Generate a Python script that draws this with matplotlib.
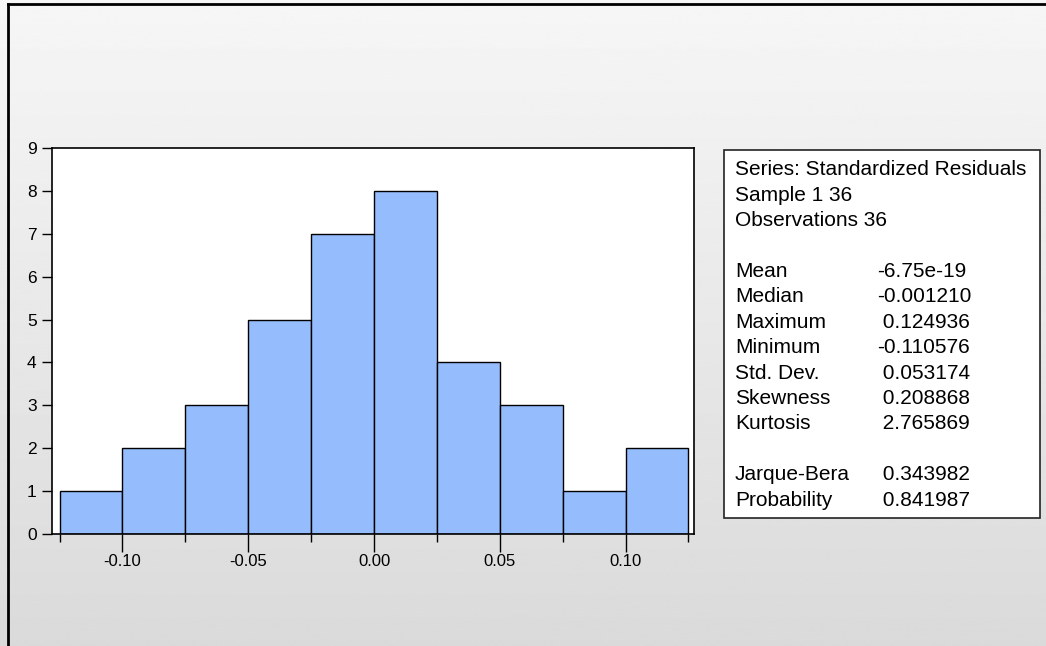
import numpy as np
import matplotlib
matplotlib.use("Agg")
import matplotlib.pyplot as plt
from matplotlib.patches import Rectangle
from matplotlib.lines import Line2D

# histogram of residuals (bin width 0.025)
bin_edges = [-0.125, -0.100, -0.075, -0.050, -0.025, 0.000, 0.025, 0.050, 0.075, 0.100, 0.125]
counts = [1, 2, 3, 5, 7, 8, 4, 3, 1, 2]
major_ticks = [-0.10, -0.05, 0.00, 0.05, 0.10]
tick_labels = ["-0.10", "-0.05", "0.00", "0.05", "0.10"]

header_lines = ["Series: Standardized Residuals", "Sample 1 36", "Observations 36"]
stat_names = ["Mean", "Median", "Maximum", "Minimum", "Std. Dev.", "Skewness", "Kurtosis",
              None, "Jarque-Bera", "Probability"]
stat_values = ["-6.75e-19", "-0.001210", "0.124936", "-0.110576", "0.053174", "0.208868",
               "2.765869", None, "0.343982", "0.841987"]

W, H = 1046, 646
plt.rcParams["font.family"] = ["Liberation Sans", "DejaVu Sans"]

fig = plt.figure(figsize=(W / 100, H / 100), dpi=100)

# gradient backdrop
bg = fig.add_axes([0, 0, 1, 1], zorder=-10)
grad = np.linspace(0.965, 0.855, 256).reshape(-1, 1)
bg.imshow(grad, cmap="gray", vmin=0, vmax=1, aspect="auto", extent=[0, 1, 0, 1])
bg.set_axis_off()

# outer frame (left and top edges)
fig.add_artist(Line2D([8 / W, 8 / W], [0, 1 - 4 / H], transform=fig.transFigure, color="black", lw=2))
fig.add_artist(Line2D([8 / W, 1], [1 - 4 / H, 1 - 4 / H], transform=fig.transFigure, color="black", lw=2))

ax = fig.add_axes([52 / W, (H - 534) / H, (694 - 52) / W, (534 - 148) / H])
ax.set_facecolor("white")
edges = np.array(bin_edges)
ax.bar(edges[:-1], counts, width=np.diff(edges), align="edge",
       color="#95bdfd", edgecolor="black", linewidth=1.0)
ax.set_xlim(-0.128, 0.1272)
ax.set_ylim(0, 9)
ax.set_yticks(range(0, 10))
ax.set_xticks(major_ticks)
ax.set_xticklabels(tick_labels)
ax.set_xticks(bin_edges, minor=True)
ax.tick_params(axis="x", which="major", length=13, width=1, pad=1.5, labelsize=12, color="black")
ax.tick_params(axis="x", which="minor", length=6, width=1, color="black")
ax.tick_params(axis="y", length=7, width=1, pad=4, labelsize=12.5)
for s in ax.spines.values():
    s.set_linewidth(1.2)

# stats box
bx0, bx1, by0, by1 = 724, 1040, 150, 518
fig.add_artist(Rectangle((bx0 / W, 1 - by1 / H), (bx1 - bx0) / W, (by1 - by0) / H,
                         transform=fig.transFigure, facecolor="white", edgecolor="#222222", lw=1.2))

fs = 15
step = 25.4
y = 170
for line in header_lines:
    fig.text(735 / W, 1 - y / H, line, fontsize=fs, va="center", ha="left")
    y += step
y += step
for name, val in zip(stat_names, stat_values):
    if name is not None:
        shown = val if val.startswith("-") else " " + val
        fig.text(735 / W, 1 - y / H, name, fontsize=fs, va="center", ha="left")
        fig.text(877 / W, 1 - y / H, shown, fontsize=fs, va="center", ha="left")
    y += step

fig.savefig("out.png", dpi=100)
